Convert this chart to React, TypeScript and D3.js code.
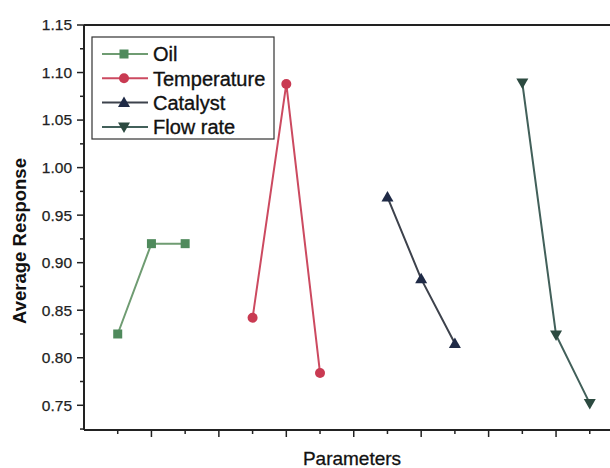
import React from 'react';
import * as d3 from 'd3';

const seriesNames = ['Oil', 'Temperature', 'Catalyst', 'Flow rate'];
const oilX = [1, 2, 3];
const oilY = [0.825, 0.92, 0.92];
const tempX = [5, 6, 7];
const tempY = [0.842, 1.088, 0.784];
const catX = [9, 10, 11];
const catY = [0.969, 0.883, 0.815];
const flowX = [13, 14, 15];
const flowY = [1.089, 0.824, 0.752];
const yTicks = [0.75, 0.8, 0.85, 0.9, 0.95, 1.0, 1.05, 1.1, 1.15];

const W = 610;
const H = 468;
const m = { left: 84, top: 25, right: 0, bottom: 38 };

const styles = [
  { line: '#6f9c72', fill: '#4f8a5c', shape: 'square' },
  { line: '#cc4a60', fill: '#c93a52', shape: 'circle' },
  { line: '#3d424c', fill: '#1f2a46', shape: 'tri' },
  { line: '#42605a', fill: '#2c4a40', shape: 'triDown' },
];

const Marker = ({ shape, x, y, fill }: { shape: string; x: number; y: number; fill: string }) => {
  if (shape === 'square') return <rect x={x - 4.5} y={y - 4.5} width={9} height={9} fill={fill} />;
  if (shape === 'circle') return <circle cx={x} cy={y} r={5} fill={fill} />;
  if (shape === 'tri')
    return <path d={`M${x},${y - 6} L${x + 6},${y + 4.5} L${x - 6},${y + 4.5} Z`} fill={fill} />;
  return <path d={`M${x},${y + 6} L${x + 6},${y - 4.5} L${x - 6},${y - 4.5} Z`} fill={fill} />;
};

export default function App() {
  const x = d3.scaleLinear().domain([0, 15.6]).range([m.left, W - m.right]);
  const y = d3.scaleLinear().domain([0.724, 1.15]).range([H - m.bottom, m.top]);

  const series = [
    oilX.map((v, i) => [v, oilY[i]]),
    tempX.map((v, i) => [v, tempY[i]]),
    catX.map((v, i) => [v, catY[i]]),
    flowX.map((v, i) => [v, flowY[i]]),
  ];
  const line = d3
    .line<number[]>()
    .x((d) => x(d[0]))
    .y((d) => y(d[1]));

  const xTicks = d3.range(1, 16);
  const yMinor = d3.range(0.725, 1.15, 0.05);
  const font = 'Arial, "Liberation Sans", sans-serif';
  const y0 = H - m.bottom;

  return (
    <svg width={W} height={H} style={{ position: 'absolute', left: 0, top: 0 }} fontFamily={font}>
      <rect width={W} height={H} fill="#fff" />
      {/* axes */}
      <line x1={m.left} x2={W} y1={m.top} y2={m.top} stroke="#222" strokeWidth={2} />
      <line x1={m.left} x2={m.left} y1={m.top} y2={y0} stroke="#222" strokeWidth={2} />
      <line x1={m.left} x2={W} y1={y0} y2={y0} stroke="#222" strokeWidth={2} />
      {yTicks.map((t) => (
        <g key={t}>
          <line x1={m.left - 7} x2={m.left} y1={y(t)} y2={y(t)} stroke="#222" strokeWidth={1.5} />
          <text x={m.left - 12} y={y(t)} dy="0.35em" textAnchor="end" fontSize={15.5} fill="#222" stroke="#222" strokeWidth={0.25}>
            {d3.format('.2f')(t)}
          </text>
        </g>
      ))}
      {yMinor.map((t) => (
        <line key={t} x1={m.left - 4} x2={m.left} y1={y(t)} y2={y(t)} stroke="#222" strokeWidth={1.5} />
      ))}
      {xTicks.map((t) => (
        <line
          key={t}
          x1={x(t)}
          x2={x(t)}
          y1={y0}
          y2={y0 + (t % 2 === 0 ? 7 : 4)}
          stroke="#222"
          strokeWidth={1.5}
        />
      ))}
      <text x={352} y={465} textAnchor="middle" fontSize={19} fill="#111" stroke="#111" strokeWidth={0.3}>
        Parameters
      </text>
      <text
        transform={`translate(26,241) rotate(-90)`}
        textAnchor="middle"
        fontSize={18.5}
        fontWeight="bold"
        fill="#111"
      >
        Average Response
      </text>
      {/* series */}
      {series.map((s, i) => (
        <g key={seriesNames[i]}>
          <path d={line(s)} fill="none" stroke={styles[i].line} strokeWidth={2} />
          {s.map((d, j) => (
            <Marker key={j} shape={styles[i].shape} x={x(d[0])} y={y(d[1])} fill={styles[i].fill} />
          ))}
        </g>
      ))}
      {/* legend */}
      <rect x={92} y={37} width={182} height={102} fill="#fff" stroke="#333" strokeWidth={1.2} />
      {seriesNames.map((n, i) => {
        const ly = 54 + i * 24.3;
        return (
          <g key={n}>
            <line x1={102} x2={148} y1={ly} y2={ly} stroke={styles[i].line} strokeWidth={2} />
            <Marker shape={styles[i].shape} x={124} y={ly} fill={styles[i].fill} />
            <text x={153} y={ly} dy="0.36em" fontSize={20} fill="#111" stroke="#111" strokeWidth={0.35}>
              {n}
            </text>
          </g>
        );
      })}
    </svg>
  );
}
